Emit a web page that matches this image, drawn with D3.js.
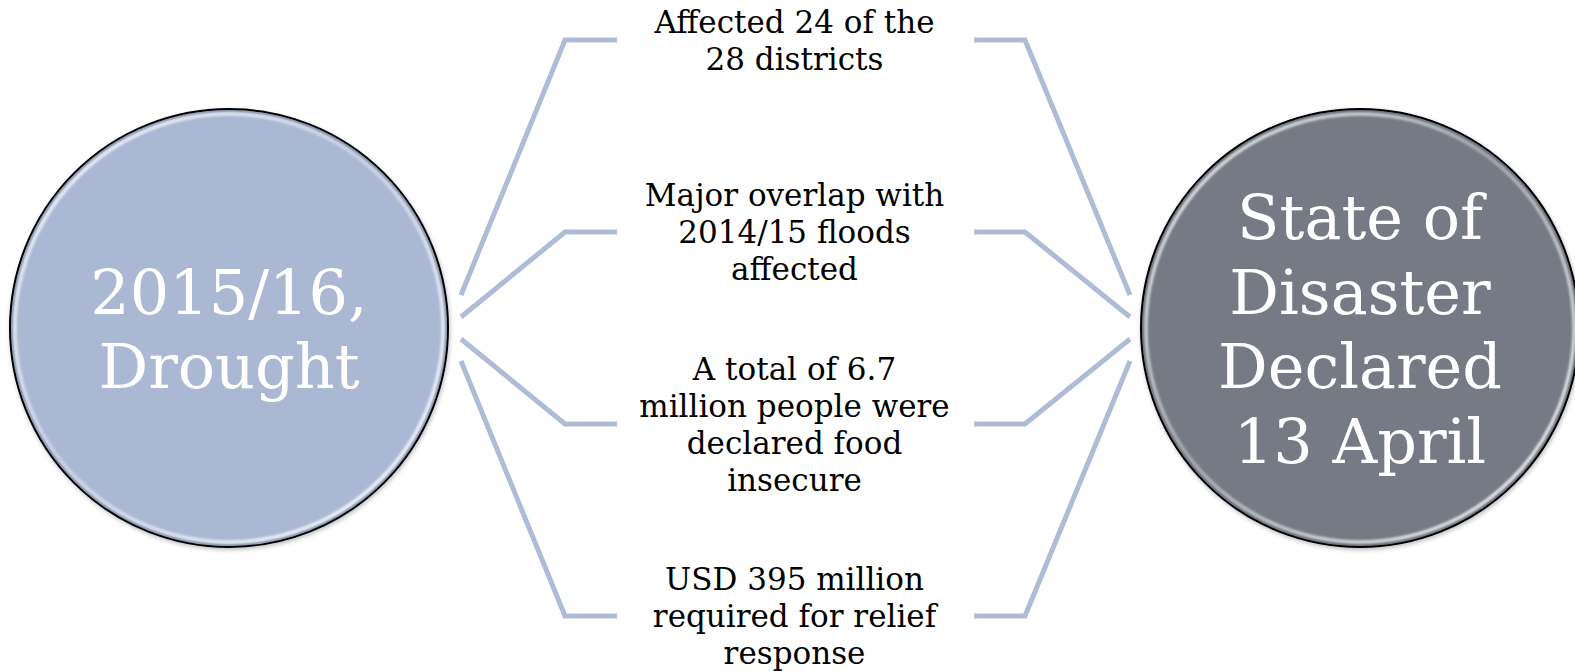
<!DOCTYPE html>
<html lang="en">
<head>
  <meta charset="UTF-8">
  <title>2015/16 Drought</title>
  <script src="https://cdn.jsdelivr.net/npm/d3@7/dist/d3.min.js"></script>
  <style>
    body {
      margin: 0;
      background: #ffffff;
      overflow: hidden;
    }
    svg {
      display: block;
    }
    text {
      font-family: "DejaVu Serif", serif;
    }
  </style>
</head>
<body>
  <svg id="chart"></svg>
  <script>
    const width = 1575;
    const height = 671;

    // text content of the diagram
    const sourceLabel = ["2015/16,", "Drought"];
    const outcomeLabel = ["State of", "Disaster", "Declared", "13 April"];
    const facts = [
      ["Affected 24 of the", "28 districts"],
      ["Major overlap with", "2014/15 floods", "affected"],
      ["A total of 6.7", "million people were", "declared food", "insecure"],
      ["USD 395 million", "required for relief", "response"]
    ];

    const svg = d3.select("#chart")
      .attr("width", width)
      .attr("height", height);

    const defs = svg.append("defs");

    const blur = defs.append("filter").attr("id", "soft")
      .attr("x", "-10%").attr("y", "-10%").attr("width", "120%").attr("height", "120%");
    blur.append("feGaussianBlur").attr("stdDeviation", 1.2);

    const shadow = defs.append("filter").attr("id", "shadow")
      .attr("x", "-10%").attr("y", "-10%").attr("width", "120%").attr("height", "120%");
    shadow.append("feDropShadow")
      .attr("dx", 1).attr("dy", 2).attr("stdDeviation", 2)
      .attr("flood-color", "#000").attr("flood-opacity", 0.25);

    // rim gloss is brightest on the left and lower right
    const rim = defs.append("linearGradient").attr("id", "rim")
      .attr("x1", "0").attr("y1", "0").attr("x2", "1").attr("y2", "1");
    rim.append("stop").attr("offset", "0%").attr("stop-color", "#fff").attr("stop-opacity", 0.9);
    rim.append("stop").attr("offset", "45%").attr("stop-color", "#fff").attr("stop-opacity", 0.35);
    rim.append("stop").attr("offset", "100%").attr("stop-color", "#fff").attr("stop-opacity", 0.95);

    // horizontal layout: two discs and the fact column between them
    const x = d3.scaleLinear().domain([0, 1]).range([229, 1360]);
    const r = 219;
    const cy = 328;
    const midX = x(0.5);

    // fact rows and where the connectors meet the discs
    const rowY = d3.scalePoint().domain(d3.range(facts.length)).range([40, 616]);
    const tipY = d3.scalePoint().domain(d3.range(facts.length)).range([295, 361]);

    const lineColor = "#afbcd8";
    const leftTip = 461, leftElbow = 565, leftEnd = 617;
    const rightTip = 1130, rightElbow = 1025, rightEnd = 974;

    const line = d3.line();

    const connectors = svg.append("g")
      .attr("fill", "none")
      .attr("stroke", lineColor)
      .attr("stroke-width", 5);

    connectors.selectAll(".left")
      .data(facts)
      .join("path")
      .attr("class", "left")
      .attr("d", (d, i) => line([[leftTip, tipY(i)], [leftElbow, rowY(i)], [leftEnd, rowY(i)]]));

    connectors.selectAll(".right")
      .data(facts)
      .join("path")
      .attr("class", "right")
      .attr("d", (d, i) => line([[rightTip, tipY(i)], [rightElbow, rowY(i)], [rightEnd, rowY(i)]]));

    // fact text blocks, centred on their row
    const factSize = 31;
    const factLead = 37;
    const factGroups = svg.append("g")
      .selectAll("text")
      .data(facts)
      .join("text")
      .attr("text-anchor", "middle")
      .attr("font-size", factSize)
      .attr("fill", "#000");

    factGroups.selectAll("tspan")
      .data((d, i) => d.map((t, j) => ({ t, j, n: d.length, i })))
      .join("tspan")
      .attr("x", midX)
      .attr("y", d => rowY(d.i) + (d.j - (d.n - 1) / 2) * factLead + 11)
      .text(d => d.t);

    // discs
    const discs = [
      { cx: x(0), fill: "#abb8d4", label: sourceLabel },
      { cx: x(1), fill: "#747a84", label: outcomeLabel }
    ];

    const disc = svg.append("g")
      .selectAll("g")
      .data(discs)
      .join("g")
      .attr("transform", d => `translate(${d.cx},${cy})`);

    disc.append("circle")
      .attr("r", r)
      .attr("fill", d => d.fill)
      .attr("stroke", "#000")
      .attr("stroke-width", 2)
      .attr("filter", "url(#shadow)");

    disc.append("circle")
      .attr("r", r - 2)
      .attr("fill", "none")
      .attr("stroke", "#5a6070")
      .attr("stroke-opacity", 0.35)
      .attr("stroke-width", 2);

    // glossy rim highlight
    disc.append("circle")
      .attr("r", r - 5)
      .attr("fill", "none")
      .attr("stroke", "url(#rim)")
      .attr("stroke-width", 3.5)
      .attr("filter", "url(#soft)");

    const discSize = 62;
    const discLead = 74.5;

    disc.append("text")
      .attr("text-anchor", "middle")
      .attr("font-size", discSize)
      .attr("fill", "#ffffff")
      .selectAll("tspan")
      .data(d => d.label.map((t, j) => ({ t, j, n: d.label.length })))
      .join("tspan")
      .attr("x", 0)
      .attr("y", d => (d.j - (d.n - 1) / 2) * discLead + 23)
      .text(d => d.t);
  </script>
</body>
</html>
